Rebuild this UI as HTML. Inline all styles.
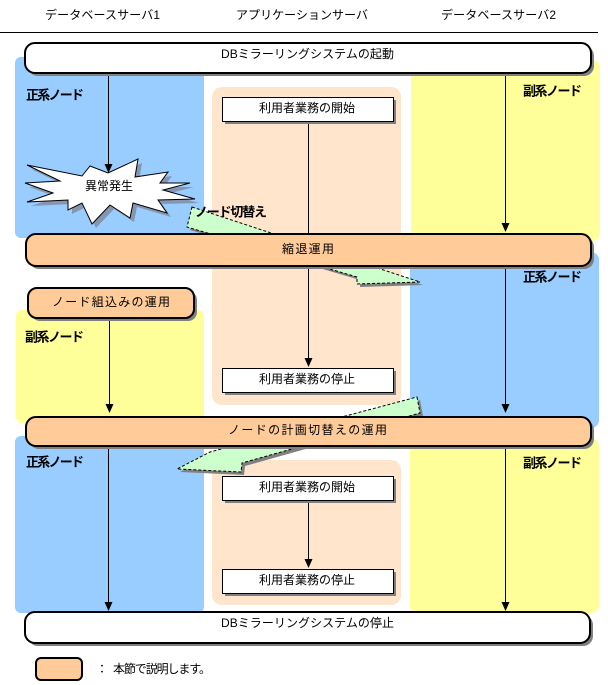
<!DOCTYPE html>
<html><head><meta charset="utf-8"><style>
html,body{margin:0;padding:0;background:#fff;}
svg{display:block;}
text{font-family:"Liberation Sans","Noto Sans CJK JP",sans-serif;font-size:12px;fill:#000;}
.b{font-weight:bold;font-size:13px;}
</style></head><body>
<svg width="608" height="685" viewBox="0 0 608 685" xmlns="http://www.w3.org/2000/svg">
<!-- header -->
<text x="45" y="15" dominant-baseline="central" textLength="115">データベースサーバ1</text>
<text x="236" y="15" dominant-baseline="central" textLength="132">アプリケーションサーバ</text>
<text x="441" y="15" dominant-baseline="central" textLength="115">データベースサーバ2</text>
<line x1="0" y1="32.5" x2="598" y2="32.5" stroke="#000" stroke-width="1"/>

<!-- lanes -->
<rect x="15" y="57" width="189" height="181" rx="6" fill="#99ccff"/>
<rect x="411" y="60" width="189" height="181" rx="8" fill="#ffff99"/>
<rect x="212" y="87" width="189" height="318" rx="10" fill="#ffe5cc"/>
<rect x="16" y="310" width="188" height="113" rx="6" fill="#ffff99"/>
<rect x="410" y="252" width="189" height="176" rx="8" fill="#99ccff"/>
<rect x="15" y="436" width="189" height="177" rx="6" fill="#99ccff"/>
<rect x="212" y="460" width="189" height="145" rx="10" fill="#ffe5cc"/>
<rect x="410" y="438" width="189" height="175" rx="8" fill="#ffff99"/>

<!-- green arrows -->
<polygon points="195,210 423,285 360,287 360,280 190,230" fill="#808080"/>
<polygon points="192,207 420,282 357,284 357,277 187,227" fill="#ccffcc" stroke="#000" stroke-width="1" stroke-dasharray="3,2"/>
<polygon points="420,400 423,416 245,466 244,475 180,472 213,455" fill="#808080"/>
<polygon points="417,397 420,413 242,463 241,472 177,469 210,452" fill="#ccffcc" stroke="#000" stroke-width="1" stroke-dasharray="3,2"/>

<!-- vertical lines -->
<g stroke="#000" stroke-width="1">
<line x1="108.5" y1="74" x2="108.5" y2="166"/>
<line x1="505.5" y1="76" x2="505.5" y2="225"/>
<line x1="308.5" y1="122" x2="308.5" y2="360"/>
<line x1="505.5" y1="267" x2="505.5" y2="406"/>
<line x1="109.5" y1="319" x2="109.5" y2="406"/>
<line x1="108.5" y1="447" x2="108.5" y2="604"/>
<line x1="308.5" y1="500" x2="308.5" y2="561"/>
<line x1="505.5" y1="447" x2="505.5" y2="604"/>
</g>
<g fill="#000">
<polygon points="501.5,223 509.5,223 505.5,232"/>
<polygon points="304.5,358 312.5,358 308.5,367"/>
<polygon points="501.5,404 509.5,404 505.5,413"/>
<polygon points="105.5,404 113.5,404 109.5,413"/>
<polygon points="104.5,602 112.5,602 108.5,611"/>
<polygon points="304.5,559 312.5,559 308.5,568"/>
<polygon points="501.5,602 509.5,602 505.5,611"/>
</g>

<!-- explosion -->
<polygon transform="translate(4,4)" points="27,165 82,176 90,166 108,173 138,159 135,177 168,172 160,183 190,183 163,190 195,199 158,200 167,213 133,203 130,218 110,205 92,224 82,203 68,210 68,200 27,202 53,193 25,183 60,181" fill="#8597b0"/>
<polygon points="27,165 82,176 90,166 108,173 138,159 135,177 168,172 160,183 190,183 163,190 195,199 158,200 167,213 133,203 130,218 110,205 92,224 82,203 68,210 68,200 27,202 53,193 25,183 60,181" fill="#fff" stroke="#000" stroke-width="1"/>
<line x1="108.5" y1="160" x2="108.5" y2="166" stroke="#000"/>
<polygon points="104.5,164 112.5,164 108.5,173" fill="#000"/>
<text x="85" y="186" dominant-baseline="central" textLength="48">異常発生</text>

<!-- bars -->
<rect x="28" y="46" width="566" height="30" rx="10" fill="#808080"/>
<rect x="25" y="43" width="566" height="30" rx="10" fill="#fff" stroke="#000" stroke-width="2"/>
<text x="221" y="54" dominant-baseline="central" textLength="173">DBミラーリングシステムの起動</text>

<rect x="29" y="237" width="565" height="32" rx="10" fill="#808080"/>
<rect x="26" y="234" width="565" height="32" rx="10" fill="#ffcc99" stroke="#000" stroke-width="2"/>
<text x="282" y="249" dominant-baseline="central" textLength="52">縮退運用</text>

<rect x="31" y="291" width="166" height="30" rx="9" fill="#808080"/>
<rect x="28" y="288" width="166" height="30" rx="9" fill="#ffcc99" stroke="#000" stroke-width="2"/>
<text x="52" y="302" dominant-baseline="central" textLength="118">ノード組込みの運用</text>

<rect x="29" y="420" width="565" height="29" rx="10" fill="#808080"/>
<rect x="26" y="417" width="565" height="29" rx="10" fill="#ffcc99" stroke="#000" stroke-width="2"/>
<text x="228" y="430" dominant-baseline="central" textLength="159">ノードの計画切替えの運用</text>

<rect x="28" y="615" width="565" height="31" rx="10" fill="#808080"/>
<rect x="25" y="612" width="565" height="31" rx="10" fill="#fff" stroke="#000" stroke-width="2"/>
<text x="221" y="623" dominant-baseline="central" textLength="173">DBミラーリングシステムの停止</text>

<!-- boxes -->
<rect x="225" y="100" width="171" height="24" fill="#808080"/>
<rect x="222.5" y="97.5" width="171" height="24" fill="#fff" stroke="#000" stroke-width="1"/>
<text x="259" y="108" dominant-baseline="central" textLength="96">利用者業務の開始</text>

<rect x="225" y="371" width="171" height="24" fill="#808080"/>
<rect x="222.5" y="368.5" width="171" height="24" fill="#fff" stroke="#000" stroke-width="1"/>
<text x="259" y="379" dominant-baseline="central" textLength="96">利用者業務の停止</text>

<rect x="225" y="479" width="171" height="24" fill="#808080"/>
<rect x="222.5" y="476.5" width="171" height="24" fill="#fff" stroke="#000" stroke-width="1"/>
<text x="259" y="487" dominant-baseline="central" textLength="96">利用者業務の開始</text>

<rect x="225" y="572" width="171" height="24" fill="#808080"/>
<rect x="222.5" y="569.5" width="171" height="24" fill="#fff" stroke="#000" stroke-width="1"/>
<text x="259" y="580" dominant-baseline="central" textLength="96">利用者業務の停止</text>

<!-- node labels -->
<text class="b" x="26" y="95" dominant-baseline="central" textLength="58">正系ノード</text>
<text class="b" x="523" y="91" dominant-baseline="central" textLength="59">副系ノード</text>
<text class="b" x="195" y="212" dominant-baseline="central" textLength="72">ノード切替え</text>
<text class="b" x="523" y="277" dominant-baseline="central" textLength="59">正系ノード</text>
<text class="b" x="25" y="337" dominant-baseline="central" textLength="59">副系ノード</text>
<text class="b" x="26" y="462" dominant-baseline="central" textLength="58">正系ノード</text>
<text class="b" x="523" y="463" dominant-baseline="central" textLength="59">副系ノード</text>

<!-- legend -->
<rect x="36" y="658" width="46" height="22" rx="5" fill="#ffcc99" stroke="#000" stroke-width="2"/>
<text x="96" y="669" dominant-baseline="central">：</text>
<text x="113" y="669" dominant-baseline="central" textLength="98">本節で説明します。</text>
</svg>
</body></html>
